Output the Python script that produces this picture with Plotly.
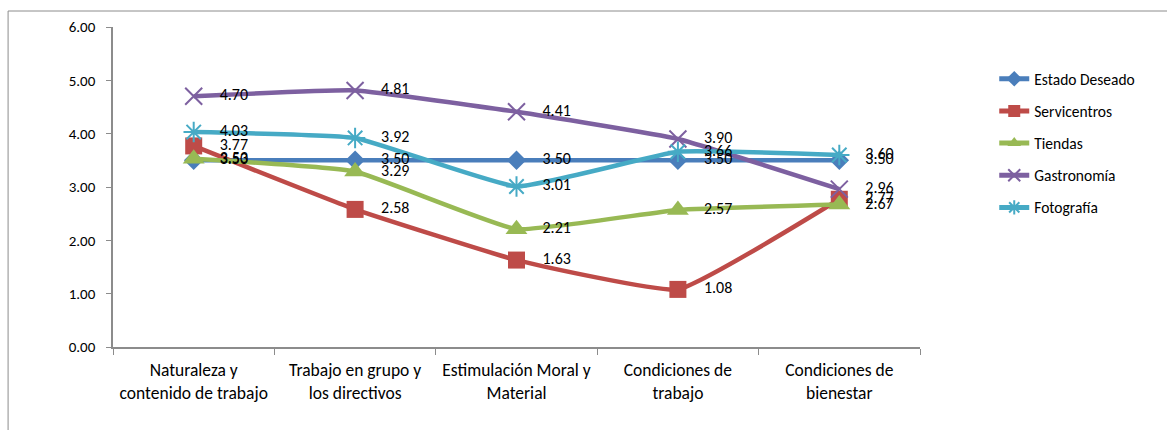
import plotly.graph_objects as go

categories = [
    "Naturaleza y<br>contenido de trabajo",
    "Trabajo en grupo y<br>los directivos",
    "Estimulación Moral y<br>Material",
    "Condiciones de<br>trabajo",
    "Condiciones de<br>bienestar",
]

estado_deseado = [3.50, 3.50, 3.50, 3.50, 3.50]
servicentros = [3.77, 2.58, 1.63, 1.08, 2.77]
tiendas = [3.53, 3.29, 2.21, 2.57, 2.67]
gastronomia = [4.70, 4.81, 4.41, 3.90, 2.96]
fotografia = [4.03, 3.92, 3.01, 3.66, 3.60]

series = [
    ("Estado Deseado", estado_deseado, "#4A7EBB", "diamond", 15, 0),
    ("Servicentros", servicentros, "#BE4B48", "square", 17, 0),
    ("Tiendas", tiendas, "#98B954", "triangle-up", 19, 0),
    ("Gastronomía", gastronomia, "#7D60A0", "x-thin-open", 17, 2),
    ("Fotografía", fotografia, "#46AAC5", "asterisk-open", 17, 2),
]

FONT = "Carlito, Lato, 'Liberation Sans', sans-serif"

fig = go.Figure()
for i, (name, vals, color, symbol, size, mlw) in enumerate(series):
    fig.add_trace(go.Scatter(
        x=categories,
        y=vals,
        name=name,
        legendgroup=f"g{i}",
        mode="lines+markers",
        line=dict(color=color, width=4.5, shape="spline", smoothing=0.35),
        marker=dict(symbol=symbol, size=size, color=color,
                    line=dict(color=color, width=mlw)),
        cliponaxis=False,
    ))

# value labels, set off to the right of each point
for i, (name, vals, color, symbol, size, mlw) in enumerate(series):
    fig.add_trace(go.Scatter(
        x=categories,
        y=vals,
        mode="markers+text",
        marker=dict(size=40, opacity=0),
        text=[f"{v:.2f}" for v in vals],
        textposition="middle right",
        textfont=dict(family=FONT, size=16, color="#000000"),
        showlegend=False,
        hoverinfo="skip",
        cliponaxis=False,
    ))

# outer chart frame (left and top edges)
fig.add_shape(
    type="path",
    xref="paper", yref="paper",
    path="M -0.130 -0.26 L -0.130 1.05 L 1.32 1.05",
    line=dict(color="#8c8c8c", width=1),
)

fig.update_layout(
    width=1167, height=430,
    margin=dict(l=113, r=247, t=27, b=83),
    paper_bgcolor="white",
    plot_bgcolor="white",
    font=dict(family=FONT, size=15, color="#000000"),
    showlegend=True,
    legend=dict(
        x=1.092, y=0.89, xanchor="left", yanchor="top",
        font=dict(family=FONT, size=15.5, color="#000000"),
        tracegroupgap=9,
        itemsizing="constant",
        bgcolor="rgba(0,0,0,0)",
    ),
    xaxis=dict(
        type="category",
        showgrid=False,
        showline=True, linecolor="#8c8c8c", linewidth=1.5,
        ticks="outside", tickson="boundaries", ticklen=6,
        tickcolor="#8c8c8c",
        tickfont=dict(family=FONT, size=17.5, color="#000000"),
        ticklabelstandoff=6,
        range=[-0.5, 4.5],
        fixedrange=True,
    ),
    yaxis=dict(
        range=[0, 6], dtick=1, tickformat=".2f",
        showgrid=False, zeroline=False,
        showline=True, linecolor="#8c8c8c", linewidth=1.5,
        ticks="outside", ticklen=5, tickcolor="#8c8c8c",
        tickfont=dict(family=FONT, size=15, color="#000000"),
        ticklabelstandoff=8,
        fixedrange=True,
    ),
)

fig.write_html("out.html")
